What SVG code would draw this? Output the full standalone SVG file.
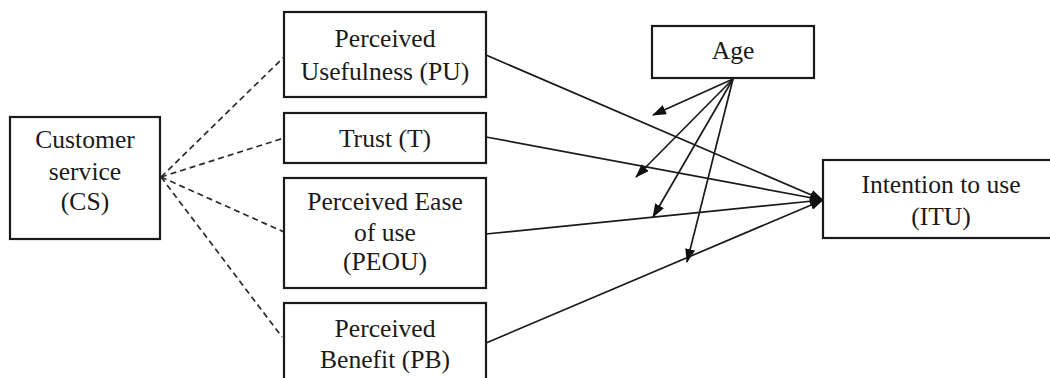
<svg xmlns="http://www.w3.org/2000/svg" width="1050" height="378" viewBox="0 0 1050 378">
<style>
.box{fill:#fff;stroke:#1a1a1a;stroke-width:2.2}
.t{font-family:'Liberation Serif','DejaVu Serif',serif;font-size:25.6px;fill:#1a1a1a;text-anchor:middle}
.arr{stroke:#1a1a1a;stroke-width:1.7;fill:none;marker-end:url(#ah)}
.dash{stroke:#2a2a2a;stroke-width:1.7;fill:none;stroke-dasharray:6 4}
</style>
<defs>
<marker id="ah" viewBox="0 0 14 10" refX="13" refY="5" markerWidth="14" markerHeight="10" markerUnits="userSpaceOnUse" orient="auto">
<path d="M0,0 L14,5 L0,10 Z" fill="#111"/>
</marker>
</defs>
<rect width="1050" height="378" fill="#fff"/>
<g id="connectors">
<line class="dash" x1="161" y1="177" x2="284" y2="57"/>
<line class="dash" x1="161" y1="177" x2="284" y2="138"/>
<line class="dash" x1="161" y1="177" x2="284" y2="232"/>
<line class="dash" x1="161" y1="177" x2="282" y2="337"/>
<line class="arr" x1="486" y1="55" x2="823" y2="200"/>
<line class="arr" x1="486" y1="137" x2="823" y2="200"/>
<line class="arr" x1="486" y1="234" x2="823" y2="200"/>
<line class="arr" x1="486" y1="343" x2="823" y2="200"/>
<line class="arr" x1="733" y1="79" x2="653" y2="115"/>
<line class="arr" x1="733" y1="79" x2="636" y2="177"/>
<line class="arr" x1="733" y1="79" x2="653" y2="217"/>
<line class="arr" x1="733" y1="79" x2="687" y2="262"/>
</g>
<g id="cs">
<rect class="box" x="10" y="117" width="150" height="122"/>
<text class="t" x="85" y="148">Customer</text>
<text class="t" x="85" y="180">service</text>
<text class="t" x="85" y="210">(CS)</text>
</g>
<g id="pu">
<rect class="box" x="284" y="12" width="202" height="85"/>
<text class="t" x="385" y="47">Perceived</text>
<text class="t" x="385" y="80">Usefulness (PU)</text>
</g>
<g id="trust">
<rect class="box" x="284" y="113" width="202" height="50"/>
<text class="t" x="385" y="147">Trust (T)</text>
</g>
<g id="peou">
<rect class="box" x="284" y="178" width="202" height="110"/>
<text class="t" x="385" y="210">Perceived Ease</text>
<text class="t" x="385" y="241">of use</text>
<text class="t" x="385" y="270">(PEOU)</text>
</g>
<g id="pb">
<rect class="box" x="284" y="303" width="202" height="90"/>
<text class="t" x="385" y="337">Perceived</text>
<text class="t" x="385" y="368">Benefit (PB)</text>
</g>
<g id="age">
<rect class="box" x="652" y="26" width="162" height="52"/>
<text class="t" x="733" y="59">Age</text>
</g>
<g id="itu">
<rect class="box" x="823" y="160" width="240" height="78"/>
<text class="t" x="941" y="193">Intention to use</text>
<text class="t" x="941" y="225">(ITU)</text>
</g>
</svg>
